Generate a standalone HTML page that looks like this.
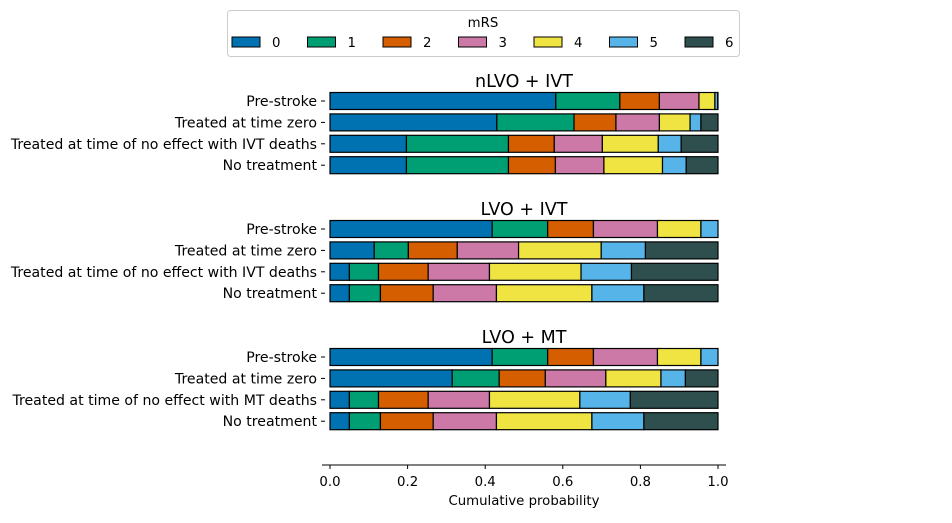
<!DOCTYPE html>
<html><head><meta charset="utf-8"><style>
body{margin:0;background:#fff;width:952px;height:518px;overflow:hidden}
svg{font-family:"DejaVu Sans","Liberation Sans",sans-serif}
</style></head><body>
<svg id="chart" width="952" height="518"></svg>
<script>
const colors=["#0072B2","#009E73","#D55E00","#CC79A7","#F0E442","#56B4E9","#2F4F4F"];
const mrsLabels=["0","1","2","3","4","5","6"];
const panelTitles=["nLVO + IVT","LVO + IVT","LVO + MT"];
const rowLabelsNLVO=["Pre-stroke","Treated at time zero","Treated at time of no effect with IVT deaths","No treatment"];
const rowLabelsLVOIVT=["Pre-stroke","Treated at time zero","Treated at time of no effect with IVT deaths","No treatment"];
const rowLabelsLVOMT=["Pre-stroke","Treated at time zero","Treated at time of no effect with MT deaths","No treatment"];
// cumulative probabilities (end of each mRS band)
const cumNLVO=[
 [0.582,0.747,0.849,0.951,0.992,0.999,1],
 [0.430,0.629,0.737,0.849,0.928,0.956,1],
 [0.197,0.460,0.578,0.702,0.846,0.905,1],
 [0.197,0.460,0.581,0.706,0.857,0.918,1]];
const cumLVOIVT=[
 [0.418,0.561,0.679,0.844,0.956,1,1],
 [0.114,0.202,0.328,0.486,0.699,0.813,1],
 [0.050,0.125,0.253,0.411,0.647,0.777,1],
 [0.050,0.130,0.266,0.429,0.675,0.809,1]];
const cumLVOMT=[
 [0.418,0.561,0.679,0.844,0.956,1,1],
 [0.315,0.436,0.555,0.711,0.853,0.916,1],
 [0.050,0.125,0.253,0.411,0.644,0.774,1],
 [0.050,0.130,0.266,0.429,0.675,0.809,1]];
const xTicks=[0,0.2,0.4,0.6,0.8,1.0];
const xTickLabels=["0.0","0.2","0.4","0.6","0.8","1.0"];

const NS="http://www.w3.org/2000/svg";
const svg=document.getElementById("chart");
function mk(t,a,txt){const e=document.createElementNS(NS,t);for(const k in a)e.setAttribute(k,a[k]);if(txt!==undefined)e.textContent=txt;svg.appendChild(e);return e;}
const X=v=>330+v*388;
const panels=[[cumNLVO,rowLabelsNLVO,101],[cumLVOIVT,rowLabelsLVOIVT,229],[cumLVOMT,rowLabelsLVOMT,357]];
const rowGap=21.4, barH=17;
panels.forEach((p,pi)=>{
 const [cum,labels,y0]=p;
 const t=mk("text",{x:524,y:y0-14,"font-size":17.5,"text-anchor":"middle",fill:"#000"},panelTitles[pi]);
 
 
 cum.forEach((row,ri)=>{
  const cy=y0+ri*rowGap;
  const lab=mk("text",{x:317,y:cy+5,"font-size":14.1,"text-anchor":"end",fill:"#000"},labels[ri]);
  
  
  mk("line",{x1:321,x2:325,y1:cy,y2:cy,stroke:"#000"});
  let prev=0;
  row.forEach((c,k)=>{
   if(c-prev>0){
    const r=mk("rect",{x:X(prev),y:cy-barH/2,width:X(c)-X(prev),height:barH,fill:colors[k],stroke:"#000","stroke-width":1.2});
    
    
   }
   prev=c;
  });
 });
});
// x axis
const ax=mk("line",{x1:322,x2:726,y1:465,y2:465,stroke:"#000"});


xTicks.forEach((v,i)=>{
 mk("line",{x1:X(v),x2:X(v),y1:465,y2:469,stroke:"#000"});
 const t=mk("text",{x:X(v),y:486,"font-size":13.3,"text-anchor":"middle"},xTickLabels[i]);
 
 
});
const xl=mk("text",{x:524,y:505,"font-size":13.3,"text-anchor":"middle"},"Cumulative probability");


// legend
const lb=mk("rect",{x:227.5,y:10.5,width:512,height:46,rx:3,fill:"#fff",stroke:"#ccc"});


const lt=mk("text",{x:483,y:27,"font-size":13.3,"text-anchor":"middle"},"mRS");


mrsLabels.forEach((l,i)=>{
 const px=232+i*75.5;
 const r=mk("rect",{x:px,y:37,width:28,height:10,fill:colors[i],stroke:"#000"});
 
 
 mk("text",{x:px+40,y:47,"font-size":13.3},l);
});
</script>
</body></html>
